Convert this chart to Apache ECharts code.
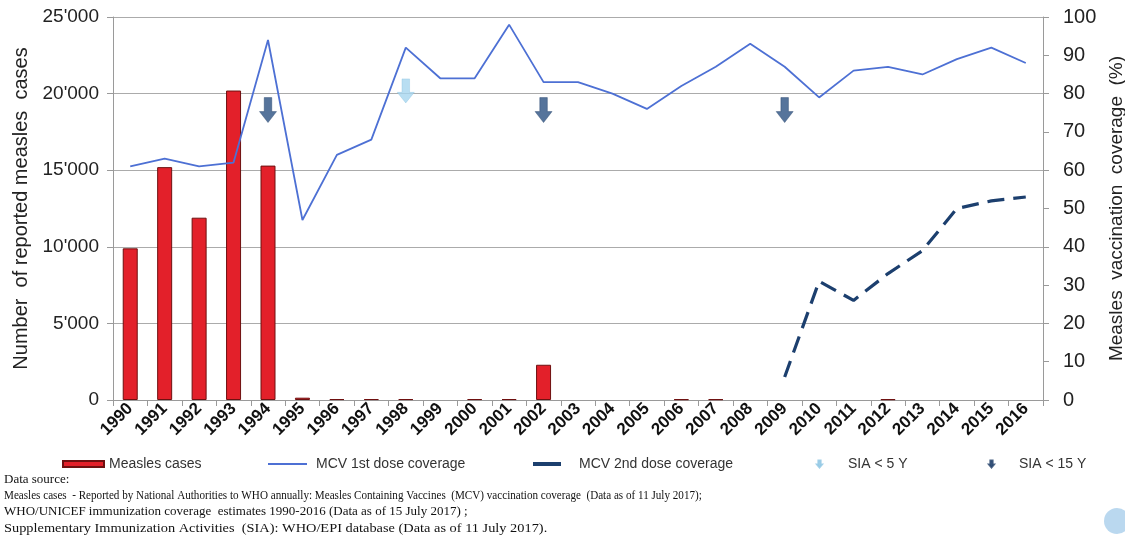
<!DOCTYPE html>
<html>
<head>
<meta charset="utf-8">
<script src="https://cdn.jsdelivr.net/npm/echarts@6/dist/echarts.min.js"></script>
<style>
html,body{margin:0;padding:0;background:#fff;}
#chart{width:1125px;height:539px;}
</style>
</head>
<body>
<div id="chart"></div>
<script>
var years = ['1990','1991','1992','1993','1994','1995','1996','1997','1998','1999','2000','2001','2002','2003','2004','2005','2006','2007','2008','2009','2010','2011','2012','2013','2014','2015','2016'];
var measlesCases = [9900,15200,11900,20200,15300,150,60,60,60,0,60,60,2300,0,0,0,50,50,0,0,0,0,50,0,0,0,0];
var mcv1 = [61,63,61,62,94,47,64,68,92,84,84,98,83,83,80,76,82,87,93,87,79,86,87,85,89,92,88];
var mcv2 = [null,null,null,null,null,null,null,null,null,null,null,null,null,null,null,null,null,null,null,6,31,26,33,39,50,52,53];
var sia5Years = ['1998'];
var sia15Years = ['1994','2002','2009'];
var leftTicks = [0,5000,10000,15000,20000,25000];
var rightTicks = [0,10,20,30,40,50,60,70,80,90,100];
var sourceLines = [
  'Data source:',
  'Measles cases  - Reported by National Authorities to WHO annually: Measles Containing Vaccines  (MCV) vaccination coverage  (Data as of 11 July 2017);',
  'WHO/UNICEF immunization coverage  estimates 1990-2016 (Data as of 15 July 2017) ;',
  'Supplementary Immunization Activities  (SIA): WHO/EPI database (Data as of 11 July 2017).'
];

var arrowPath = 'path://M5,0 L13,0 L13,14 L18,14 L9,25 L0,14 L5,14 Z';
var chart = echarts.init(document.getElementById('chart'));
var sansFont = '"Liberation Sans", Arial, sans-serif';
var serifFont = '"Liberation Serif", "Times New Roman", serif';

function legendText(padLeft) {
  return {fontFamily: sansFont, fontSize: 14, color: '#333', padding: [0, 0, 0, padLeft]};
}
var legendBase = {orient: 'horizontal', top: 457, itemGap: 0, padding: 0, selectedMode: false};

// zero values are not drawn as bars
var barData = measlesCases.map(function (v) { return v === 0 ? '-' : v; });

var sourceScale = [1, 0.855, 1.0, 1.105];
var sourceTop = [473, 489, 505, 522];
var graphics = sourceLines.map(function (t, i) {
  return {type: 'text', x: 4, y: sourceTop[i], scaleX: sourceScale[i], scaleY: 1, originX: 0,
    style: {text: t, font: '13px ' + serifFont, fill: '#111', verticalAlign: 'top'}};
});
graphics.push({type: 'circle', shape: {cx: 1117, cy: 521, r: 13}, style: {fill: '#9cc7e8', opacity: 0.7}});

var option = {
  animation: false,
  backgroundColor: '#fff',
  grid: {left: 113, right: 82, top: 17, height: 383, containLabel: false, outerBoundsMode: 'none'},
  legend: [
    Object.assign({}, legendBase, {left: 62, data: [{name: 'Measles cases', icon: 'rect'}], itemWidth: 41, itemHeight: 6, textStyle: legendText(0)}),
    Object.assign({}, legendBase, {left: 268, data: [{name: 'MCV 1st dose coverage', icon: 'rect'}], itemWidth: 39, itemHeight: 2, textStyle: legendText(4)}),
    Object.assign({}, legendBase, {left: 533, data: [{name: 'MCV 2nd dose coverage', icon: 'rect'}], itemWidth: 28, itemHeight: 4, textStyle: legendText(13)}),
    Object.assign({}, legendBase, {left: 816, data: [{name: 'SIA < 5 Y', icon: arrowPath}], itemWidth: 5, itemHeight: 8, textStyle: legendText(21)}),
    Object.assign({}, legendBase, {left: 988, data: [{name: 'SIA < 15 Y', icon: arrowPath}], itemWidth: 5, itemHeight: 8, textStyle: legendText(20)})
  ],
  xAxis: {
    type: 'category',
    data: years,
    boundaryGap: true,
    axisLine: {show: true, lineStyle: {color: '#9a9a9a', width: 1}},
    axisTick: {show: true, length: 6, lineStyle: {color: '#9a9a9a'}},
    axisLabel: {rotate: 45, interval: 0, margin: 6, fontFamily: sansFont, fontSize: 17, fontWeight: 'bold', color: '#111'}
  },
  yAxis: [
    {
      type: 'value', min: leftTicks[0], max: leftTicks[leftTicks.length-1], interval: 5000,
      name: 'Number  of reported measles  cases',
      nameLocation: 'middle', nameGap: 77, nameRotate: 90,
      nameTextStyle: {fontFamily: sansFont, fontSize: 20, color: '#222'},
      axisLine: {show: true, lineStyle: {color: '#9a9a9a'}},
      axisTick: {show: true, length: 6, lineStyle: {color: '#9a9a9a'}},
      splitLine: {show: true, lineStyle: {color: '#ababab', width: 1}},
      axisLabel: {fontFamily: sansFont, fontSize: 19, color: '#222', margin: 14,
        formatter: function (v) { return v === 0 ? '0' : String(v).replace(/(\d)(?=(\d{3})+$)/g, "$1'"); }}
    },
    {
      type: 'value', min: rightTicks[0], max: rightTicks[rightTicks.length-1], interval: 10,
      name: 'Measles  vaccination  coverage  (%)',
      nameLocation: 'middle', nameGap: 62, nameRotate: 90,
      nameTextStyle: {fontFamily: sansFont, fontSize: 19, color: '#222'},
      position: 'right',
      axisLine: {show: true, lineStyle: {color: '#9a9a9a'}},
      axisTick: {show: true, length: 6, lineStyle: {color: '#9a9a9a'}},
      splitLine: {show: false},
      axisLabel: {fontFamily: sansFont, fontSize: 20, color: '#222', margin: 20}
    }
  ],
  series: [
    {
      name: 'Measles cases', type: 'bar', yAxisIndex: 0, data: barData, barWidth: 15,
      itemStyle: {color: '#e3202a', borderColor: '#6e1010', borderWidth: 1}
    },
    {
      name: 'MCV 1st dose coverage', type: 'line', yAxisIndex: 1, data: mcv1,
      symbol: 'none', lineStyle: {color: '#4d70d4', width: 1.8}, itemStyle: {color: '#4d70d4'}
    },
    {
      name: 'MCV 2nd dose coverage', type: 'line', yAxisIndex: 1, data: mcv2, connectNulls: false,
      symbol: 'none', lineStyle: {color: '#1c3f6e', width: 3.2, type: [17, 9]}, itemStyle: {color: '#1c3f6e'}
    },
    {
      name: 'SIA < 5 Y', type: 'scatter', yAxisIndex: 1,
      data: sia5Years.map(function (y) { return [y, 80.7]; }),
      symbol: arrowPath, symbolSize: [17, 24],
      itemStyle: {color: '#a6d6ef', borderColor: '#8cc4e2', borderWidth: 0.5}
    },
    {
      name: 'SIA < 15 Y', type: 'scatter', yAxisIndex: 1,
      data: sia15Years.map(function (y) { return [y, 75.7]; }),
      symbol: arrowPath, symbolSize: [17, 25],
      itemStyle: {color: '#2c5182', borderColor: '#1f3d66', borderWidth: 0.5}
    }
  ],
  graphic: graphics
};
chart.setOption(option);
</script>
</body>
</html>
